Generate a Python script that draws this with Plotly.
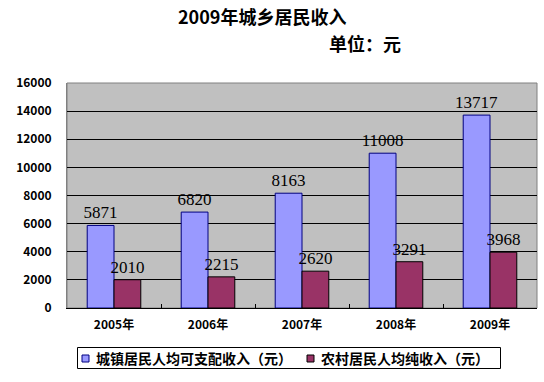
import plotly.graph_objects as go

years = ["2005年", "2006年", "2007年", "2008年", "2009年"]
urban = [5871, 6820, 8163, 11008, 13717]
rural = [2010, 2215, 2620, 3291, 3968]
urban_name = "城镇居民人均可支配收入（元）"
rural_name = "农村居民人均纯收入（元）"
title_text = "2009年城乡居民收入"
unit_text = "单位：元"

cjk = "Noto Sans CJK SC"
serif = "Liberation Serif"
URBAN_C, RURAL_C = "#9999FF", "#993366"

W, H = 544, 382
L, R, T, B = 67, 7, 83, 74
PW, PH = W - L - R, H - T - B


def px(x):
    return (x - L) / PW


def py(y):
    return (H - B - y) / PH


fig = go.Figure()
fig.add_trace(go.Bar(
    x=years, y=urban, name=urban_name,
    marker=dict(color=URBAN_C, line=dict(color="#000080", width=1)),
    text=[str(v) for v in urban], textposition="outside", constraintext="none",
    textfont=dict(family=serif, size=17, color="black"), cliponaxis=False,
))
fig.add_trace(go.Bar(
    x=years, y=rural, name=rural_name,
    marker=dict(color=RURAL_C, line=dict(color="#000000", width=1)),
    text=[str(v) for v in rural], textposition="outside", constraintext="none",
    textfont=dict(family=serif, size=17, color="black"), cliponaxis=False,
))

bold = dict(family=cjk, color="black", weight="bold")
fig.update_layout(
    width=W, height=H,
    margin=dict(l=L, r=R, t=T, b=B),
    paper_bgcolor="white", plot_bgcolor="#C0C0C0",
    barmode="group", bargap=0.43, bargroupgap=0,
    showlegend=False,
    annotations=[
        dict(text=title_text, x=px(262), y=py(16), xref="paper", yref="paper",
             xanchor="center", yanchor="middle", showarrow=False, font=dict(size=18, **bold)),
        dict(text=unit_text, x=px(365), y=py(43), xref="paper", yref="paper",
             xanchor="center", yanchor="middle", showarrow=False, font=dict(size=18, **bold)),
        dict(text=urban_name, x=px(94), y=py(358), xref="paper", yref="paper",
             xanchor="left", yanchor="middle", showarrow=False, font=dict(size=14, **bold)),
        dict(text=rural_name, x=px(319), y=py(358), xref="paper", yref="paper",
             xanchor="left", yanchor="middle", showarrow=False, font=dict(size=14, **bold)),
    ],
    shapes=[
        dict(type="rect", xref="paper", yref="paper", x0=0, x1=1, y0=0, y1=1,
             line=dict(color="#808080", width=1), layer="below"),
        dict(type="rect", xref="paper", yref="paper", x0=px(77.5), x1=px(500.5), y0=py(347.5), y1=py(368.5),
             line=dict(color="black", width=1), fillcolor="white"),
        dict(type="rect", xref="paper", yref="paper", x0=px(82), x1=px(89), y0=py(355), y1=py(362),
             line=dict(color="#000080", width=1), fillcolor=URBAN_C),
        dict(type="rect", xref="paper", yref="paper", x0=px(307), x1=px(314), y0=py(355), y1=py(362),
             line=dict(color="black", width=1), fillcolor=RURAL_C),
    ],
)

fig.update_xaxes(
    showline=True, linecolor="black", linewidth=1, mirror=False,
    ticks="inside", ticklen=4, tickcolor="black", tickson="boundaries",
    tickfont=dict(size=12, **bold), ticklabelstandoff=6,
    showgrid=False,
)
fig.update_yaxes(
    range=[0, 16000], dtick=2000, tickformat="d",
    showline=True, linecolor="#808080", linewidth=1,
    showgrid=True, gridcolor="black", gridwidth=1,
    ticks="", ticklabelstandoff=12,
    tickfont=dict(size=12, **bold),
    zeroline=False,
)

fig.write_html("out.html", config={"displayModeBar": False},
               post_script="document.body.style.margin='0';")
